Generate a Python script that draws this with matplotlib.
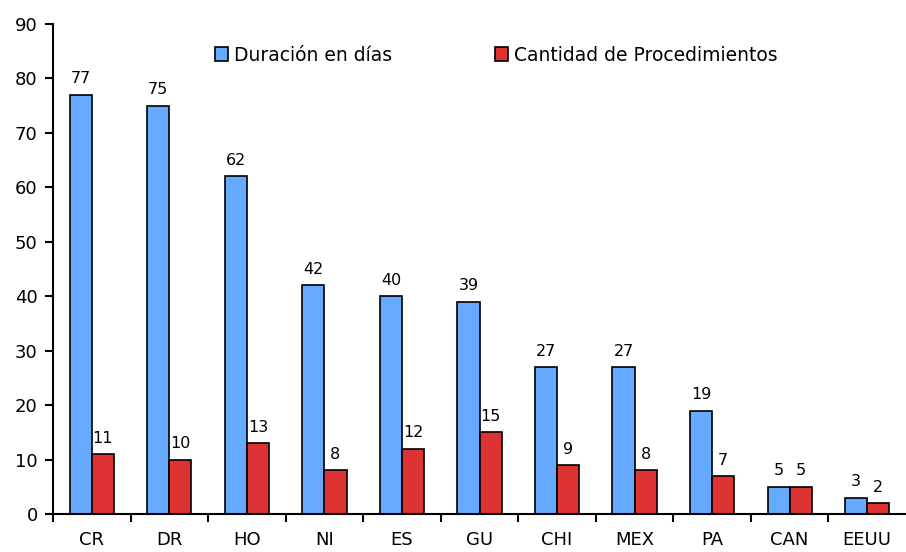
import numpy as np
import matplotlib.pyplot as plt

paises = ['CR', 'DR', 'HO', 'NI', 'ES', 'GU', 'CHI', 'MEX', 'PA', 'CAN', 'EEUU']
duracion = [77, 75, 62, 42, 40, 39, 27, 27, 19, 5, 3]
procedimientos = [11, 10, 13, 8, 12, 15, 9, 8, 7, 5, 2]

x = np.arange(len(paises))
w = 0.285

fig = plt.figure(figsize=(9.06, 5.52), dpi=100)
ax = fig.add_axes([0.0585, 0.0688, 0.9415, 0.8877])

b1 = ax.bar(x - w / 2, duracion, w, color='#66AAFF', edgecolor='black', linewidth=1.2,
            label='Duración en días')
b2 = ax.bar(x + w / 2, procedimientos, w, color='#DD3333', edgecolor='black', linewidth=1.2,
            label='Cantidad de Procedimientos')

for bars in (b1, b2):
    for r in bars:
        ax.annotate(f'{r.get_height():g}', (r.get_x() + r.get_width() / 2, r.get_height()),
                    xytext=(0, 6), textcoords='offset points', ha='center', va='bottom',
                    fontsize=11.5)

ax.set_xlim(-0.5, len(paises) - 0.5)
ax.set_ylim(0, 90)
ax.set_yticks(range(0, 91, 10))
ax.set_xticks(x)
ax.set_xticklabels(paises)
ax.set_xticks(np.arange(-0.5, len(paises) - 0.5, 1), minor=True)
ax.tick_params(axis='x', which='major', length=0, pad=12, labelsize=13)
ax.tick_params(axis='x', which='minor', length=6, width=1.5, direction='out')
ax.tick_params(axis='y', length=6, width=1.5, labelsize=13, pad=5)

for s in ('top', 'right'):
    ax.spines[s].set_visible(False)
for s in ('left', 'bottom'):
    ax.spines[s].set_linewidth(1.5)

ax.legend(loc='upper left', bbox_to_anchor=(0.17, 0.99), ncol=2, frameon=False,
          fontsize=13.5, handlelength=0.7, handleheight=0.8, handletextpad=0.3,
          columnspacing=5.5)

fig.savefig('out.png', dpi=100)
